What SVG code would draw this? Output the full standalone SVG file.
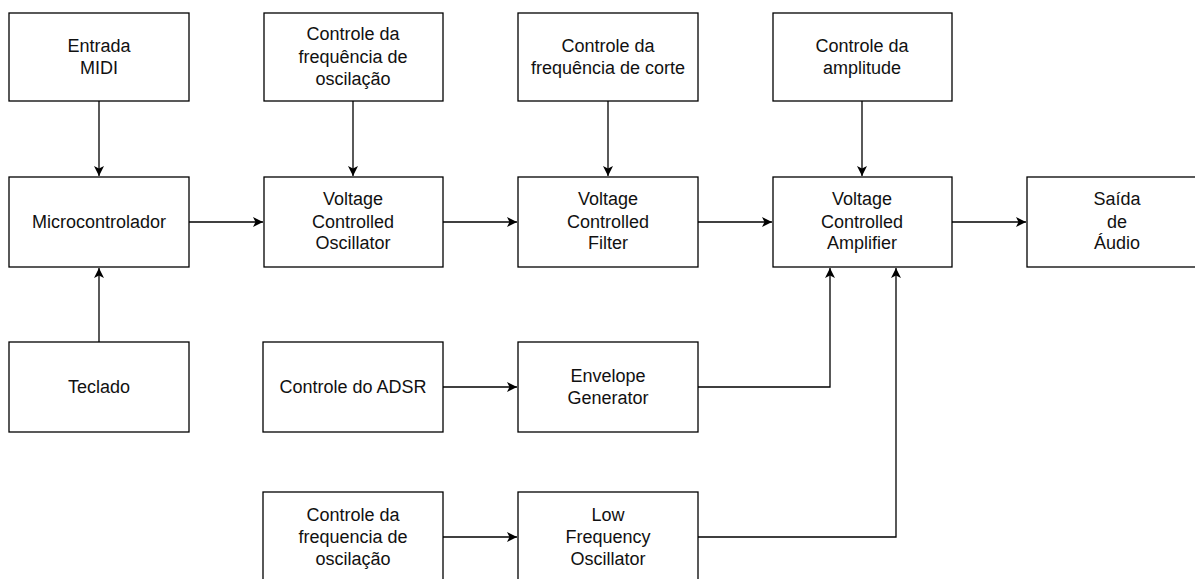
<svg xmlns="http://www.w3.org/2000/svg" width="1195" height="579" viewBox="0 0 1195 579">
<style>
.box{fill:#fff;stroke:#000;stroke-width:1.3}
.t{font-family:"Liberation Sans",Arial,sans-serif;font-size:18px;fill:#111;text-anchor:middle}
.c{fill:none;stroke:#000;stroke-width:1.3}
</style>
<defs>
<marker id="ah" markerUnits="userSpaceOnUse" markerWidth="14" markerHeight="14" viewBox="-12 -7 14 14" refX="0" refY="0" orient="auto">
<path d="M0,0 L-10,-5 L-7.5,0 L-10,5 Z" fill="#000"/>
</marker>
</defs>
<rect width="1195" height="579" fill="#fff"/>
<g id="connectors">
<path class="c" d="M99,101 V176" marker-end="url(#ah)"/>
<path class="c" d="M99,342 V268" marker-end="url(#ah)"/>
<path class="c" d="M353,101 V176" marker-end="url(#ah)"/>
<path class="c" d="M608,101 V176" marker-end="url(#ah)"/>
<path class="c" d="M862,101 V176" marker-end="url(#ah)"/>
<path class="c" d="M189,222 H263" marker-end="url(#ah)"/>
<path class="c" d="M443,222 H517" marker-end="url(#ah)"/>
<path class="c" d="M698,222 H772" marker-end="url(#ah)"/>
<path class="c" d="M952,222 H1026" marker-end="url(#ah)"/>
<path class="c" d="M443,387 H517" marker-end="url(#ah)"/>
<path class="c" d="M443,537 H517" marker-end="url(#ah)"/>
<path class="c" d="M698,387 H830 V268" marker-end="url(#ah)"/>
<path class="c" d="M698,537 H896 V268" marker-end="url(#ah)"/>
</g>
<g id="entrada-midi">
<rect class="box" x="9" y="13" width="180" height="88"/>
<text class="t" x="99" y="52">Entrada</text>
<text class="t" x="99" y="74">MIDI</text>
</g>
<g id="ctrl-freq-osc">
<rect class="box" x="264" y="13" width="179" height="88"/>
<text class="t" x="353" y="40">Controle da</text>
<text class="t" x="353" y="63">frequência de</text>
<text class="t" x="353" y="85">oscilação</text>
</g>
<g id="ctrl-freq-corte">
<rect class="box" x="518" y="13" width="180" height="88"/>
<text class="t" x="608" y="52">Controle da</text>
<text class="t" x="608" y="74">frequência de corte</text>
</g>
<g id="ctrl-amplitude">
<rect class="box" x="773" y="13" width="179" height="88"/>
<text class="t" x="862" y="52">Controle da</text>
<text class="t" x="862" y="74">amplitude</text>
</g>
<g id="microcontrolador">
<rect class="box" x="9" y="177" width="180" height="90"/>
<text class="t" x="99" y="228">Microcontrolador</text>
</g>
<g id="vco">
<rect class="box" x="264" y="177" width="179" height="90"/>
<text class="t" x="353" y="205">Voltage</text>
<text class="t" x="353" y="228">Controlled</text>
<text class="t" x="353" y="249">Oscillator</text>
</g>
<g id="vcf">
<rect class="box" x="518" y="177" width="180" height="90"/>
<text class="t" x="608" y="205">Voltage</text>
<text class="t" x="608" y="228">Controlled</text>
<text class="t" x="608" y="249">Filter</text>
</g>
<g id="vca">
<rect class="box" x="773" y="177" width="179" height="90"/>
<text class="t" x="862" y="205">Voltage</text>
<text class="t" x="862" y="228">Controlled</text>
<text class="t" x="862" y="249">Amplifier</text>
</g>
<g id="saida-audio">
<rect class="box" x="1027" y="177" width="180" height="90"/>
<text class="t" x="1117" y="205">Saída</text>
<text class="t" x="1117" y="228">de</text>
<text class="t" x="1117" y="249">Áudio</text>
</g>
<g id="teclado">
<rect class="box" x="9" y="342" width="180" height="90"/>
<text class="t" x="99" y="393">Teclado</text>
</g>
<g id="ctrl-adsr">
<rect class="box" x="263" y="342" width="180" height="90"/>
<text class="t" x="353" y="393">Controle do ADSR</text>
</g>
<g id="envelope-generator">
<rect class="box" x="518" y="342" width="180" height="90"/>
<text class="t" x="608" y="382">Envelope</text>
<text class="t" x="608" y="404">Generator</text>
</g>
<g id="ctrl-freq-lfo">
<rect class="box" x="263" y="492" width="180" height="92"/>
<text class="t" x="353" y="521">Controle da</text>
<text class="t" x="353" y="543">frequencia de</text>
<text class="t" x="353" y="565">oscilação</text>
</g>
<g id="lfo">
<rect class="box" x="518" y="492" width="180" height="92"/>
<text class="t" x="608" y="521">Low</text>
<text class="t" x="608" y="543">Frequency</text>
<text class="t" x="608" y="565">Oscillator</text>
</g>
</svg>
